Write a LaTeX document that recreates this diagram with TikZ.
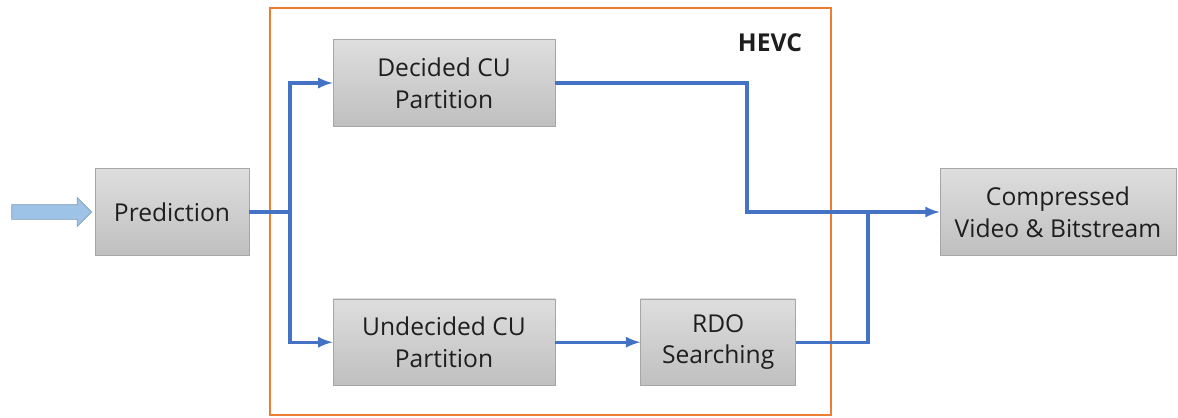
\documentclass[tikz,border=0pt]{standalone}
\usepackage{fontspec}
\setmainfont{Open Sans}
\usetikzlibrary{arrows,positioning,shapes.arrows}
\definecolor{flowblue}{RGB}{68,114,196}
\definecolor{frameorange}{RGB}{237,125,49}
\definecolor{inblue}{RGB}{157,195,230}
\definecolor{boxgray}{RGB}{166,166,166}
\definecolor{txtgray}{RGB}{30,30,30}
\tikzset{
  blockbox/.style = {draw=boxgray, top color=black!13, bottom color=black!25,
    align=center, text=txtgray, font=\fontsize{14}{18}\selectfont,
    minimum height=1.73cm, inner sep=2pt},
  hevcframe/.style = {draw=frameorange, line width=1.5pt},
  inarrow/.style = {single arrow, draw=inblue!80!black, fill=inblue,
    minimum height=1.6cm, minimum width=0.56cm, single arrow head extend=0.14cm,
    inner sep=0.14cm},
  trans/.style = {->, >=latex, flowblue, line width=1.8pt},
  link/.style = {flowblue, line width=1.8pt}
  }

\begin{document}
\begin{tikzpicture}
\useasboundingbox (0,0) rectangle (23.56,-8.34);
\draw[hevcframe] (5.4,-0.16) rectangle (16.62,-8.3);
\node[font=\bfseries\fontsize{14}{16}\selectfont, text=txtgray] (hevc) at (15.4,-0.86) {HEVC};

\node[inarrow] (input) at (0.96,-4.24) {};
\node[blockbox, minimum width=3.08cm] (prediction) at (3.44,-4.24) {Prediction};
\node[blockbox, minimum width=4.44cm] (decided) at (8.88,-1.66) {Decided CU\\Partition};
\node[blockbox, minimum width=4.44cm, below=3.44cm of decided] (undecided) {Undecided CU\\Partition};
\node[blockbox, minimum width=3.1cm, right=1.7cm of undecided] (rdo) {RDO\\Searching};
\node[blockbox, minimum width=4.72cm] (compressed) at (21.16,-4.24) {Compressed\\Video \& Bitstream};

\coordinate (split) at (5.8,-4.24);
\coordinate (bend) at (14.94,-4.24);
\coordinate (merge) at (17.36,-4.24);

\draw[link] (prediction) -- (split);
\draw[trans] (split) |- (decided);
\draw[trans] (split) |- (undecided);
\draw[trans] (undecided) -- (rdo);
\draw[trans] (decided) -| (bend) -- (compressed);
\draw[link] (rdo) -| (merge);
\end{tikzpicture}
\end{document}
